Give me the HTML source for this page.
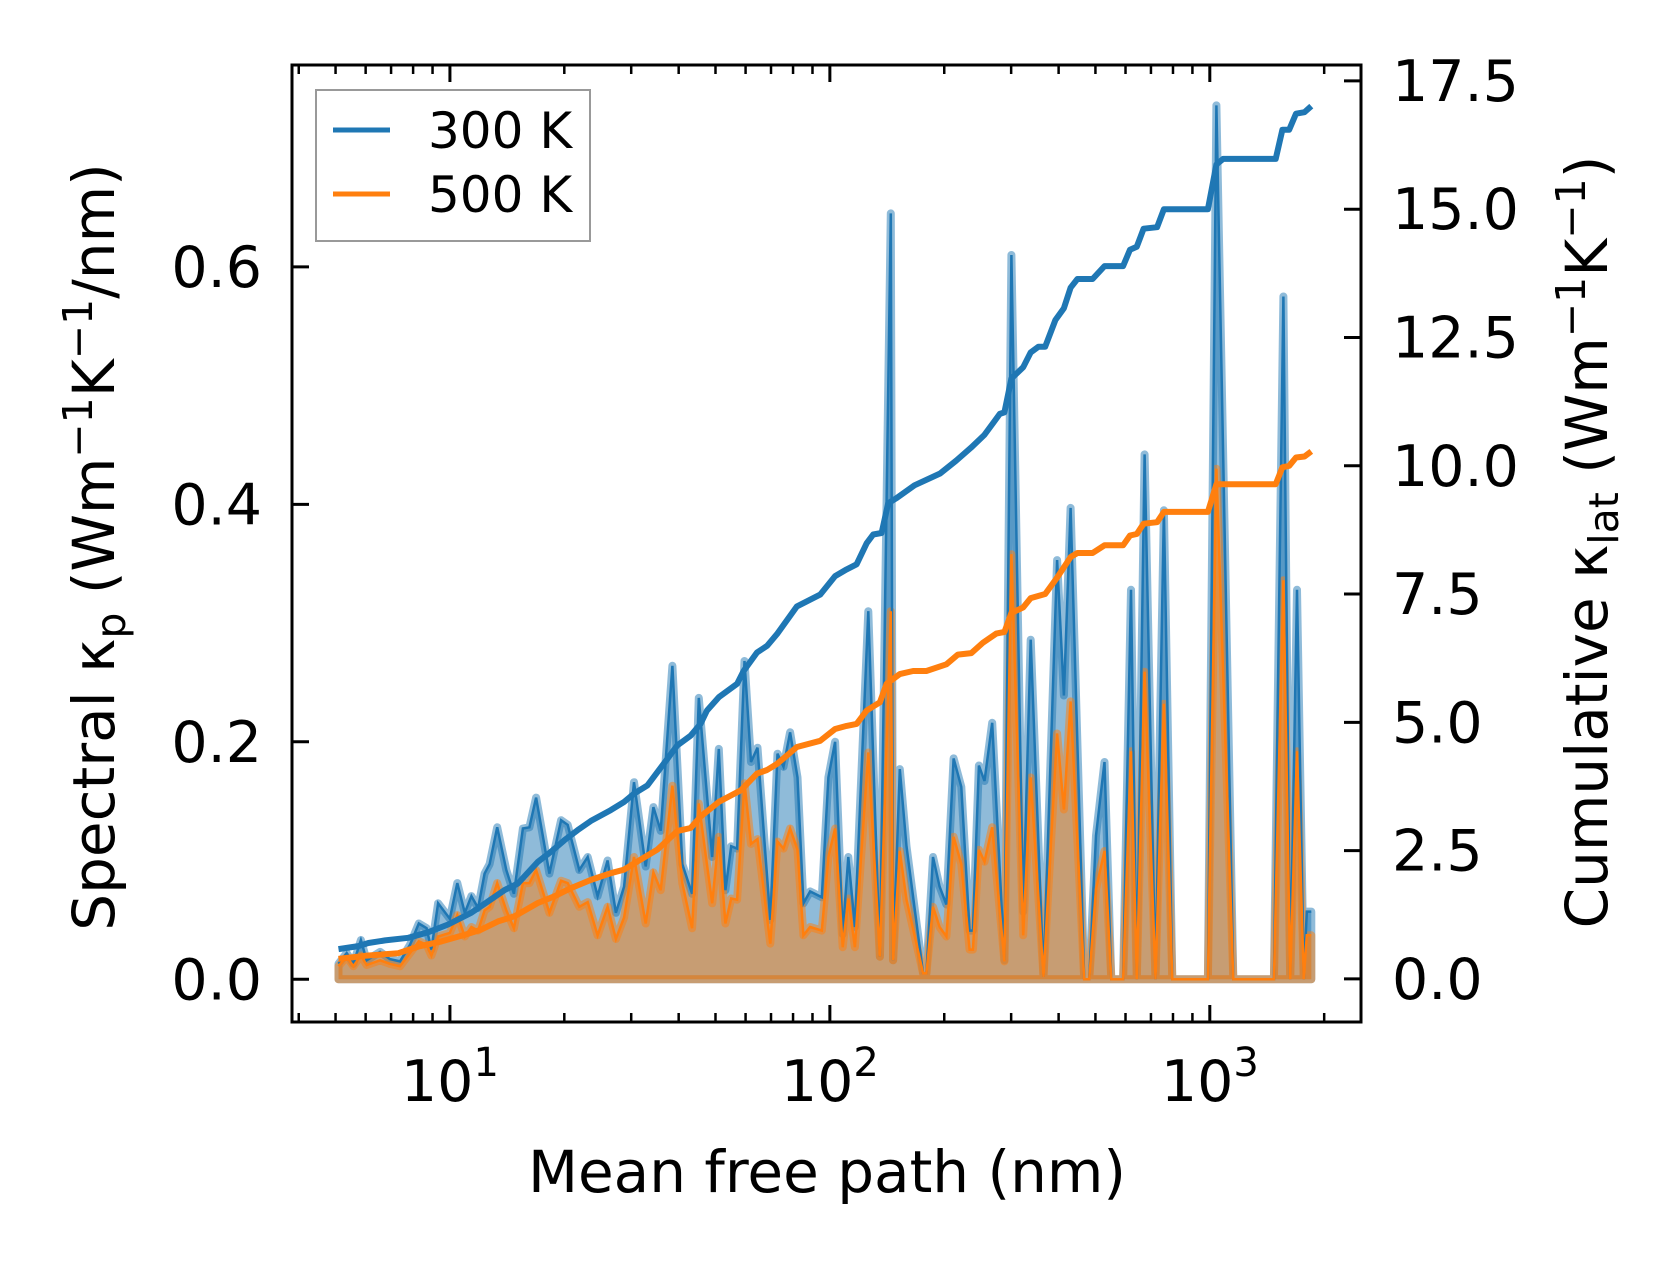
<!DOCTYPE html>
<html><head><meta charset="utf-8"><style>
html,body{margin:0;padding:0;background:#fff;}
svg text{font-family:"DejaVu Sans","Liberation Sans",sans-serif;fill:#000;}
</style></head><body>
<svg id="chart" width="1679" height="1259" viewBox="0 0 1679 1259" xmlns="http://www.w3.org/2000/svg">
<defs><clipPath id="plotclip"><rect x="292" y="65" width="1069" height="957"/></clipPath></defs>
<g id="layer-fill" clip-path="url(#plotclip)"></g>
<g id="layer-axes"></g>
<g>
<rect x="316" y="90" width="274" height="151" fill="#fff" fill-opacity="0.8" stroke="#999" stroke-width="2"/>
<line x1="333" y1="130" x2="390" y2="130" stroke="#1f77b4" stroke-width="5"/>
<text x="428" y="148" font-size="50">300 K</text>
<line x1="333" y1="194" x2="390" y2="194" stroke="#ff7f0e" stroke-width="5"/>
<text x="428" y="212" font-size="50">500 K</text>
</g>
<text x="827" y="1192" font-size="58" text-anchor="middle">Mean free path (nm)</text>
<text transform="translate(114,547) rotate(-90)" font-size="58" text-anchor="middle">Spectral κ<tspan font-size="41" dy="11">p</tspan><tspan dy="-11"> (Wm</tspan><tspan font-size="41" dy="-22">−1</tspan><tspan dy="22">K</tspan><tspan font-size="41" dy="-22">−1</tspan><tspan dy="22">/nm)</tspan></text>
<text transform="translate(1607,542) rotate(-90)" font-size="58" text-anchor="middle">Cumulative κ<tspan font-size="41" dy="11">lat</tspan><tspan dy="-11"> (Wm</tspan><tspan font-size="41" dy="-22">−1</tspan><tspan dy="22">K</tspan><tspan font-size="41" dy="-22">−1</tspan><tspan dy="22">)</tspan></text>
</svg>
<script>
const mfp = [5.09,5.35,5.57,5.83,6.04,6.55,6.95,7.39,7.85,8.28,8.68,8.94,9.31,9.99,10.46,10.94,11.39,11.86,12.34,12.72,13.32,14.07,14.74,15.56,16.19,16.86,18.27,19.61,20.42,21.90,23.04,24.47,26.0,27.34,28.73,30.52,32.76,34.32,35.87,38.5,40.9,43.4,45.2,49.0,51.0,53.1,55.0,57.0,59.6,62.0,64.5,69.7,72.8,75.5,78.6,82.2,85.2,88.7,95.2,99.1,103.2,108.1,111.8,116.4,126.2,135.4,144.7,146.7,152.8,159.1,175.9,179.5,186.8,194.5,202.6,211.7,221.8,233.2,237.9,246.7,255.3,267.5,288.0,300.4,322.8,337.8,365.0,396.3,412.9,430.2,467.0,481.6,501.8,528.3,550.5,591.4,620.2,642.3,673.4,719.4,757.3,796.8,988.5,1040.6,1153,1475,1562,1628,1696,1768,1800,1850];
const spec300 = [.013,.022,.013,.033,.016,.023,.017,.015,.029,.047,.043,.025,.064,.051,.081,.056,.070,.060,.089,.097,.128,.092,.072,.127,.128,.153,.089,.134,.130,.092,.103,.070,.100,.056,.078,.166,.095,.145,.125,.264,.097,.072,.237,.103,.194,.075,.112,.110,.268,.183,.195,.050,.190,.179,.208,.170,.064,.074,.069,.170,.200,.038,.103,.044,.310,.019,.645,.016,.177,.112,.005,.005,.103,.078,.063,.186,.162,.041,.041,.180,.167,.216,.016,.610,.057,.286,.002,.353,.239,.397,0,0,.121,.183,0,0,.328,0,.442,0,.395,0,0,.736,0,0,.575,0,.328,0,.057,.057];
const spec500 = [.011,.019,.011,.020,.012,.016,.013,.011,.022,.032,.029,.020,.036,.039,.054,.036,.044,.041,.058,.061,.081,.058,.043,.081,.081,.092,.056,.083,.081,.061,.065,.037,.061,.034,.052,.103,.047,.090,.075,.163,.081,.043,.148,.064,.120,.047,.068,.067,.165,.114,.118,.030,.116,.110,.127,.109,.037,.044,.041,.103,.127,.027,.068,.027,.191,.019,.310,.016,.108,.067,.005,.005,.061,.044,.036,.120,.097,.025,.025,.109,.099,.128,.015,.358,.037,.170,.002,.207,.143,.234,0,0,.076,.108,0,0,.192,0,.259,0,.232,0,0,.430,0,0,.336,0,.192,0,.037,.037];
const cumMfp300 = [5.09,5.74,6.10,6.75,7.77,8.77,9.89,11.39,12.60,13.92,15.10,17.03,18.46,20.0,21.69,23.50,26.51,28.73,30.52,33.10,37.35,39.67,42.99,45.66,47.5,51.0,57.0,59.3,64.3,68.3,72.6,81.9,94.3,103.2,110.7,117.6,125.0,130.0,136.8,142.4,149.8,167,195,215,235,255,270,280,288,300.4,322.8,337.8,354.0,368.7,392.3,412.9,430.2,448.3,491.6,528.3,591.4,616.6,642.3,669.3,726.5,757.3,988.5,1040.6,1084,1491,1553,1618,1686,1775,1850];
const cum300 = [0.58,0.64,0.70,0.75,0.80,0.91,1.06,1.29,1.51,1.73,1.86,2.28,2.48,2.70,2.90,3.08,3.29,3.45,3.61,3.77,4.29,4.55,4.74,4.97,5.23,5.49,5.75,6.00,6.36,6.49,6.72,7.26,7.49,7.85,7.98,8.08,8.49,8.66,8.69,9.27,9.37,9.62,9.85,10.1,10.35,10.6,10.85,11.01,11.04,11.70,11.92,12.21,12.32,12.32,12.84,13.07,13.47,13.64,13.64,13.89,13.89,14.21,14.27,14.62,14.65,15.0,15.0,15.87,15.98,15.98,16.55,16.55,16.86,16.89,17.01];
const cumMfp500 = [5.09,5.98,7.31,8.25,9.50,10.94,12.09,13.38,14.79,17.03,18.83,20.83,23.50,26.51,28.73,31.17,35.16,39.67,42.99,45.66,51.0,58.4,64.3,68.3,72.6,81.9,94.3,103.2,110.7,117.6,125.0,135.4,141.0,152.8,165.6,179.5,202.6,217.3,235.6,252.7,274.1,288,300.4,322.8,337.8,368.7,396.3,430.2,448.3,491.6,528.3,591.4,616.6,642.3,669.3,726.5,757.3,988.5,1040.6,1491,1553,1618,1686,1775,1850];
const cum500 = [0.39,0.45,0.50,0.63,0.73,0.86,0.96,1.12,1.22,1.48,1.61,1.77,1.93,2.06,2.13,2.29,2.52,2.88,2.94,3.16,3.45,3.68,4.0,4.07,4.19,4.52,4.64,4.87,4.93,4.97,5.23,5.39,5.75,5.94,6.0,6.0,6.13,6.32,6.35,6.55,6.73,6.76,7.13,7.24,7.42,7.50,7.82,8.22,8.30,8.30,8.45,8.45,8.64,8.67,8.87,8.90,9.10,9.10,9.64,9.64,9.97,10.0,10.16,10.18,10.28];
const leftTicks = [0.0,0.2,0.4,0.6];
const leftTickLabels = ["0.0","0.2","0.4","0.6"];
const rightTicks = [0,2.5,5,7.5,10,12.5,15,17.5];
const rightTickLabels = ["0.0","2.5","5.0","7.5","10.0","12.5","15.0","17.5"];
const xMajor = [10,100,1000];
const xMajorExp = ["1","2","3"];

const L=292,R=1361,T=65,B=1022;
const XMIN=Math.log10(3.84),XMAX=Math.log10(2500);
function xs(v){return L+(Math.log10(v)-XMIN)/(XMAX-XMIN)*(R-L);}
const YL0=-0.036,YL1=0.770;
function yl(v){return B-(v-YL0)/(YL1-YL0)*(B-T);}
const YR0=-0.84,YR1=17.81;
function yr(v){return B-(v-YR0)/(YR1-YR0)*(B-T);}
const NS='http://www.w3.org/2000/svg';
function mk(tag,attrs,parent){const e=document.createElementNS(NS,tag);for(const k in attrs)e.setAttribute(k,attrs[k]);parent.appendChild(e);return e;}
const gF=document.getElementById('layer-fill');
const gA=document.getElementById('layer-axes');

function fillPath(vals){let d='M'+xs(mfp[0]).toFixed(1)+','+yl(0).toFixed(1);
 for(let i=0;i<mfp.length;i++)d+='L'+xs(mfp[i]).toFixed(1)+','+yl(vals[i]).toFixed(1);
 d+='L'+xs(mfp[mfp.length-1]).toFixed(1)+','+yl(0).toFixed(1)+'Z';return d;}
function linePath(xa,ya,fy){let d='';for(let i=0;i<xa.length;i++)d+=(i?'L':'M')+xs(xa[i]).toFixed(1)+','+fy(ya[i]).toFixed(1);return d;}

let e;
e=mk('path',{d:fillPath(spec300),fill:'#1f77b4','fill-opacity':0.5,stroke:'#1f77b4','stroke-opacity':0.5,'stroke-width':8,'stroke-linejoin':'round'},gF);


e=mk('path',{d:fillPath(spec500),fill:'#ff7f0e','fill-opacity':0.5,stroke:'#ff7f0e','stroke-opacity':0.5,'stroke-width':8,'stroke-linejoin':'round'},gF);


e=mk('path',{d:linePath(mfp,spec300,yl),fill:'none',stroke:'#1f77b4','stroke-width':2.5},gF);


e=mk('path',{d:linePath(mfp,spec500,yl),fill:'none',stroke:'#ff7f0e','stroke-width':2.5},gF);


e=mk('path',{d:linePath(cumMfp300,cum300,yr),fill:'none',stroke:'#1f77b4','stroke-width':6,'stroke-linejoin':'round'},gF);


e=mk('path',{d:linePath(cumMfp500,cum500,yr),fill:'none',stroke:'#ff7f0e','stroke-width':6,'stroke-linejoin':'round'},gF);



e=mk('rect',{x:L,y:T,width:R-L,height:B-T,fill:'none',stroke:'#000','stroke-width':3},gA);



leftTicks.forEach((v,i)=>{const y=yl(v);
 let t=mk('line',{x1:L,y1:y,x2:L+17,y2:y,stroke:'#000','stroke-width':3},gA);
 
 
 let tx=mk('text',{x:262,y:y+20,'font-size':57,'text-anchor':'end'},gA);tx.textContent=leftTickLabels[i];
 
 
});
rightTicks.forEach((v,i)=>{const y=yr(v);
 let t=mk('line',{x1:R-17,y1:y,x2:R,y2:y,stroke:'#000','stroke-width':3},gA);
 
 
 let tx=mk('text',{x:1392,y:y+20,'font-size':57},gA);tx.textContent=rightTickLabels[i];
 
 
});
for(let dec=1;dec<=1000;dec*=10){for(let m=1;m<=9;m++){const v=dec*m;if(v<3.84||v>2500)continue;
 const x=xs(v);const major=(m===1);const len=major?17:9;
 let t=mk('line',{x1:x,y1:B,x2:x,y2:B-len,stroke:'#000','stroke-width':major?3:2.5},gA);
 
 
 t=mk('line',{x1:x,y1:T,x2:x,y2:T+len,stroke:'#000','stroke-width':major?3:2.5},gA);
 
 
}}
xMajor.forEach((v,i)=>{const x=xs(v);
 let tx=mk('text',{x:x,y:1101,'font-size':57,'text-anchor':'middle'},gA);
 
 
 let s1=mk('tspan',{},tx);s1.textContent='10';
 let s2=mk('tspan',{'font-size':40,dy:-25},tx);s2.textContent=xMajorExp[i];
});
</script>
</body></html>
